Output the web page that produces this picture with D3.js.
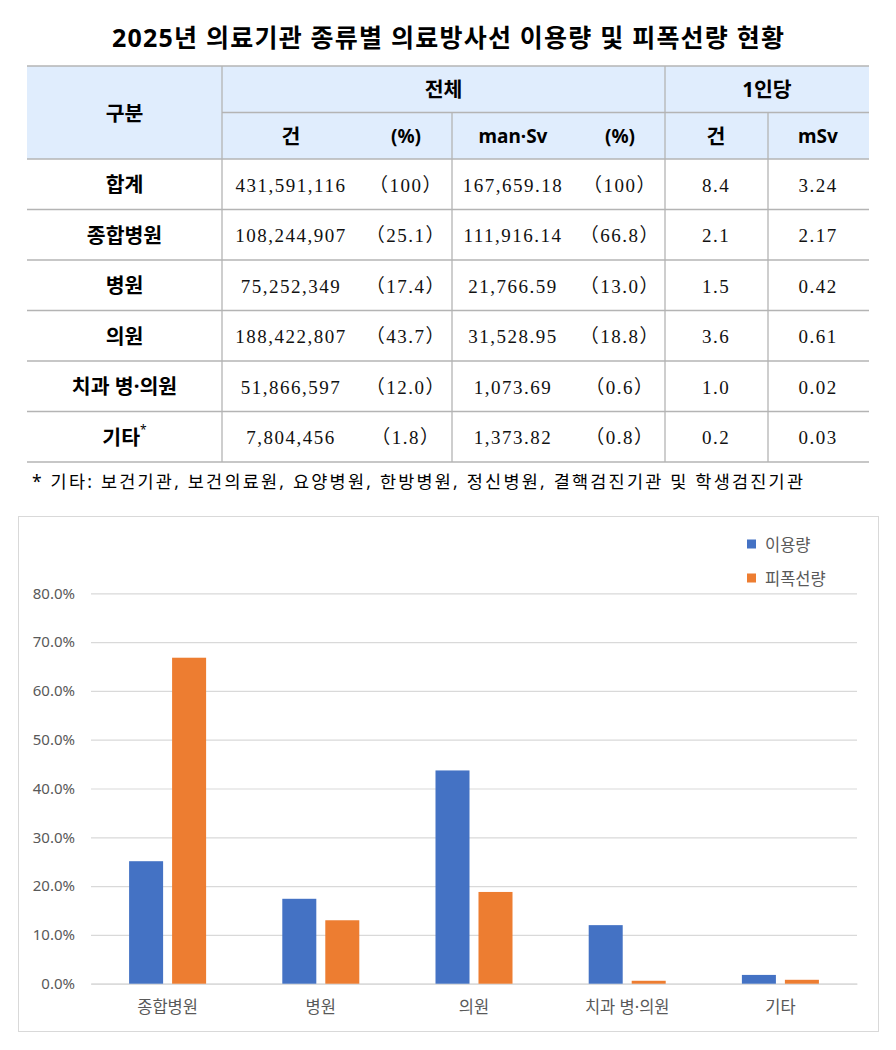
<!DOCTYPE html>
<html>
<head>
<meta charset="utf-8">
<script src="https://cdn.jsdelivr.net/npm/d3@7"></script>
<style>
  body { margin: 0; background: #fff; }
  svg { display: block; }
</style>
</head>
<body>
<div id="chart"></div>
<script>
// DATA

var titleText = "2025년 의료기관 종류별 의료방사선 이용량 및 피폭선량 현황"
var footnoteText = "* 기타: 보건기관, 보건의료원, 요양병원, 한방병원, 정신병원, 결핵검진기관 및 학생검진기관"

var rowLabels = ["합계", "종합병원", "병원", "의원", "치과 병·의원", "기타"]
var countValues = [431591116, 108244907, 75252349, 188422807, 51866597, 7804456]
var countPct = [100, 25.1, 17.4, 43.7, 12.0, 1.8]
var doseValues = [167659.18, 111916.14, 21766.59, 31528.95, 1073.69, 1373.82]
var dosePct = [100, 66.8, 13.0, 18.8, 0.6, 0.8]
var perCapitaCount = [8.4, 2.1, 1.5, 3.6, 1.0, 0.2]
var perCapitaDose = [3.24, 2.17, 0.42, 0.61, 0.02, 0.03]

var categories = ["종합병원", "병원", "의원", "치과 병·의원", "기타"]
var seriesNames = ["이용량", "피폭선량"]
var usageShare = [25.1, 17.4, 43.7, 12.0, 1.8]
var doseShare = [66.8, 13.0, 18.8, 0.6, 0.8]
var yTicks = [0, 10, 20, 30, 40, 50, 60, 70, 80]

// DIMENSIONS

var svgWidth = 896
var svgHeight = 1050

var svg = d3.select("#chart").append("svg")
    .attr("width", svgWidth)
    .attr("height", svgHeight)

// latin + middle dot from Noto Sans, hangul falls back to the CJK face
var sansKR = "'Noto Sans', 'Noto Sans CJK KR', sans-serif"
var serifNum = "'Liberation Serif', 'Noto Sans CJK KR', serif"

// TITLE

svg.append("text")
    .attr("x", 112)
    .attr("y", 47)
    .attr("textLength", 672)
    .attr("lengthAdjust", "spacing")
    .style("font-family", sansKR)
    .style("font-weight", "bold")
    .style("font-size", "25px")
    .style("fill", "#000")
    .text(titleText)

// TABLE

var tLeft = 27, tRight = 869
var hTop = 66, h1 = 112.5, h2 = 159
var rowH = 50.5
var tBottom = h2 + rowH * rowLabels.length
var borderColor = "#b4b4b4"
var headFill = "#e0edfd"

var table = svg.append("g")

table.append("rect")
    .attr("x", tLeft).attr("y", hTop)
    .attr("width", tRight - tLeft).attr("height", h2 - hTop)
    .attr("fill", headFill)

function hline(x1, x2, y) {
    table.append("line").attr("x1", x1).attr("x2", x2).attr("y1", y).attr("y2", y)
        .attr("stroke", borderColor).attr("stroke-width", 1.3)
}
function vline(x, y1, y2) {
    table.append("line").attr("x1", x).attr("x2", x).attr("y1", y1).attr("y2", y2)
        .attr("stroke", borderColor).attr("stroke-width", 1.3)
}

hline(tLeft, tRight, hTop)
hline(222, tRight, h1)
hline(tLeft, tRight, h2)
rowLabels.forEach((d, i) => hline(tLeft, tRight, h2 + rowH * (i + 1)))
vline(222, hTop, tBottom)
vline(665, hTop, tBottom)
vline(452, h1, tBottom)
vline(768, h1, tBottom)

function headText(x, y, txt, size) {
    return table.append("text")
        .attr("x", x).attr("y", y)
        .attr("text-anchor", "middle")
        .attr("dominant-baseline", "central")
        .style("font-family", sansKR)
        .style("font-weight", "bold")
        .style("font-size", (size || 20.5) + "px")
        .style("fill", "#000")
        .text(txt)
}

headText((tLeft + 222) / 2, (hTop + h2) / 2, "구분")
headText((222 + 665) / 2, (hTop + h1) / 2, "전체")
headText((665 + tRight) / 2, (hTop + h1) / 2, "1인당")
var subHeads = ["건", "(%)", "man·Sv", "(%)", "건", "mSv"]
var subCenters = [291, 406, 513, 620, 716, 818]
subHeads.forEach((d, i) => headText(subCenters[i], (h1 + h2) / 2, d, d === "건" ? 20.5 : 19))

var fmtInt = d3.format(",")
var fmt2 = d3.format(",.2f")
function pct(v) { return "（" + (v === 100 ? "100" : v.toFixed(1)) + "）" }

rowLabels.forEach((label, i) => {
    var cy = h2 + rowH * i + rowH / 2
    var lab = headText((tLeft + 222) / 2, cy, label)
    if (label === "기타") {
        lab.append("tspan")
            .attr("dy", -8)
            .style("font-size", "12px")
            .style("font-weight", "normal")
            .text("*")
    }
    var cells = [fmtInt(countValues[i]), pct(countPct[i]), fmt2(doseValues[i]),
        pct(dosePct[i]), perCapitaCount[i].toFixed(1), perCapitaDose[i].toFixed(2)]
    cells.forEach((c, j) => {
        table.append("text")
            .attr("x", subCenters[j]).attr("y", cy + 1)
            .attr("text-anchor", "middle")
            .attr("dominant-baseline", "central")
            .style("font-family", serifNum)
            .style("font-size", "19px")
            .style("letter-spacing", "1.5px")
            .style("fill", "#111")
            .text(c)
    })
})

svg.append("text")
    .attr("x", 32)
    .attr("y", 481)
    .attr("dominant-baseline", "central")
    .attr("textLength", 771)
    .attr("lengthAdjust", "spacing")
    .style("font-family", sansKR)
    .style("font-size", "17.5px")
    .style("fill", "#000")
    .text(footnoteText)

// BAR CHART

svg.append("rect")
    .attr("x", 18.5).attr("y", 516.5)
    .attr("width", 860).attr("height", 515)
    .attr("fill", "#fff")
    .attr("stroke", "#d9d9d9")

var plotLeft = 91, plotRight = 857
var yScale = d3.scaleLinear().domain([0, 80]).range([983.7, 593.3])
var x0 = d3.scaleBand().domain(categories).range([plotLeft, plotRight]).padding(0)
var x1 = d3.scaleBand().domain(seriesNames).range([0, x0.bandwidth()])
    .paddingInner(0.209).paddingOuter(0.886)
var colors = d3.scaleOrdinal().domain(seriesNames).range(["#4472c4", "#ed7d31"])

var chartGroup = svg.append("g")

var yAxis = d3.axisLeft(yScale)
    .tickValues(yTicks)
    .tickSize(-(plotRight - plotLeft))
    .tickPadding(16)
    .tickFormat(d => d.toFixed(1) + "%")

chartGroup.append("g")
    .attr("transform", `translate(${plotLeft},0)`)
    .call(yAxis)
    .call(g => g.select(".domain").remove())
    .call(g => g.selectAll(".tick line").attr("stroke", "#d9d9d9").attr("stroke-width", 1.2))
    .call(g => g.selectAll(".tick text")
        .style("font-family", sansKR)
        .style("font-size", "15px")
        .style("fill", "#595959"))

var xAxis = d3.axisBottom(x0).tickSize(0).tickPadding(18)

chartGroup.append("g")
    .attr("transform", `translate(0,${yScale(0)})`)
    .call(xAxis)
    .call(g => g.select(".domain").attr("stroke", "#d9d9d9").attr("stroke-width", 1.2))
    .call(g => g.selectAll(".tick text")
        .style("font-family", sansKR)
        .style("font-size", "16.5px")
        .style("fill", "#595959"))

var barData = categories.map((c, i) => ({cat: c, values: [
    {name: seriesNames[0], v: usageShare[i]},
    {name: seriesNames[1], v: doseShare[i]}
]}))

chartGroup.selectAll("g.cat")
    .data(barData)
    .enter()
    .append("g")
    .classed("cat", true)
    .attr("transform", d => `translate(${x0(d.cat)},0)`)
    .selectAll("rect")
    .data(d => d.values)
    .enter()
    .append("rect")
    .attr("x", d => x1(d.name))
    .attr("y", d => yScale(d.v))
    .attr("width", x1.bandwidth())
    .attr("height", d => yScale(0) - yScale(d.v))
    .attr("fill", d => colors(d.name))

// LEGEND
var legend = chartGroup.selectAll("g.legend")
    .data(seriesNames)
    .enter()
    .append("g")
    .classed("legend", true)
    .attr("transform", (d, i) => `translate(747,${544 + i * 34})`)

legend.append("rect")
    .attr("x", 0).attr("y", -4.5)
    .attr("width", 9).attr("height", 9)
    .attr("fill", d => colors(d))

legend.append("text")
    .attr("x", 18).attr("y", 0)
    .attr("dominant-baseline", "central")
    .style("font-family", sansKR)
    .style("font-size", "16.5px")
    .style("fill", "#595959")
    .text(d => d)
</script>
</body>
</html>
